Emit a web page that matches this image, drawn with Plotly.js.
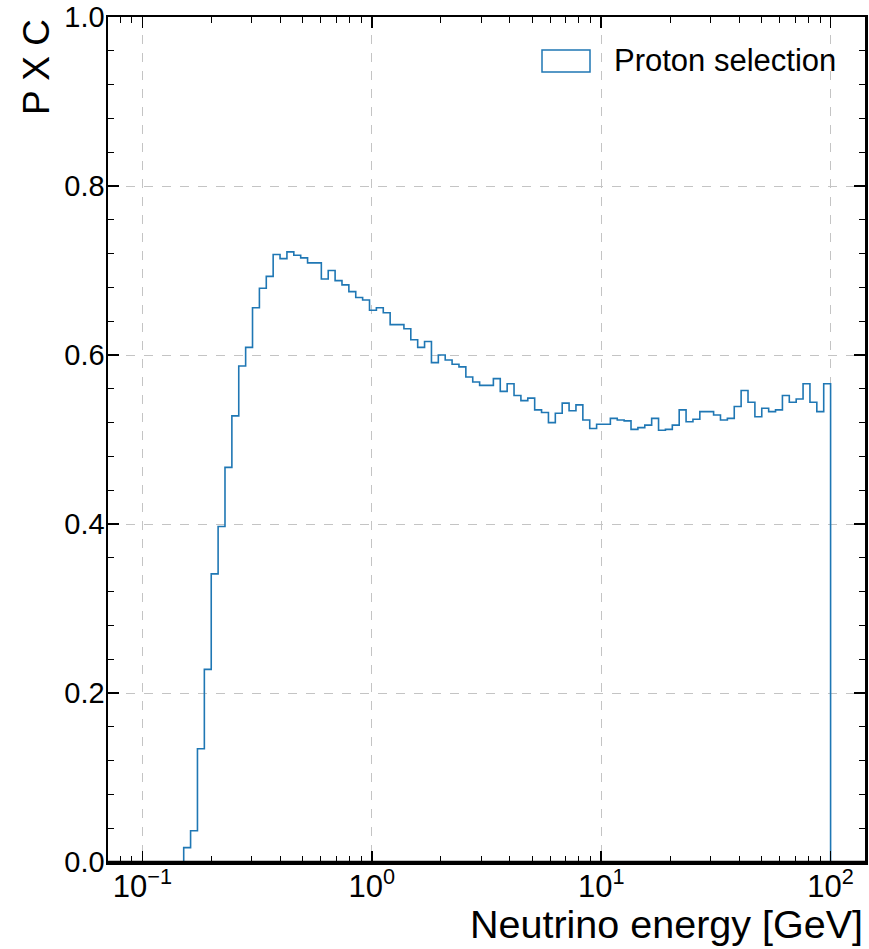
<!DOCTYPE html>
<html>
<head>
<meta charset="utf-8">
<script src="https://cdn.plot.ly/plotly-3.0.1.min.js"></script>
<style>html,body{margin:0;padding:0;background:#fff;}#chart{width:869px;height:949px;}</style>
</head>
<body>
<div id="chart"></div>
<script>
// Histogram definition: 100 log-spaced bins from 0.1 to 100 GeV
const energyMin = 0.1;
const energyMax = 100;
const nBins = 100;

// P x C per bin
const pxcValues = [
  0, 0, 0, 0, 0, 0,
  0.017, 0.037, 0.134, 0.228, 0.341, 0.397, 0.467, 0.528, 0.587, 0.609,
  0.656, 0.679, 0.693, 0.719, 0.714, 0.722, 0.718, 0.715, 0.709, 0.709,
  0.690, 0.700, 0.688, 0.683, 0.675, 0.668, 0.665, 0.653, 0.656, 0.650,
  0.636, 0.636, 0.631, 0.618, 0.609, 0.616, 0.591, 0.600, 0.594, 0.589,
  0.586, 0.574, 0.568, 0.564, 0.564, 0.572, 0.557, 0.566, 0.552, 0.546,
  0.549, 0.535, 0.532, 0.520, 0.531, 0.543, 0.534, 0.541, 0.523, 0.513,
  0.518, 0.518, 0.525, 0.523, 0.522, 0.512, 0.514, 0.517, 0.525, 0.511,
  0.512, 0.517, 0.535, 0.521, 0.524, 0.533, 0.533, 0.529, 0.523, 0.525,
  0.539, 0.558, 0.544, 0.527, 0.537, 0.533, 0.535, 0.552, 0.544, 0.548,
  0.566, 0.544, 0.533, 0.566
];

const seriesName = "Proton selection";
const xTickVals = [0.1, 1, 10, 100];
const xTickText = ["10<sup>\u22121</sup>", "10<sup>0</sup>", "10<sup>1</sup>", "10<sup>2</sup>"];
const yTickVals = [0, 0.2, 0.4, 0.6, 0.8, 1.0];
const yTickText = ["0.0", "0.2", "0.4", "0.6", "0.8", "1.0"];
const xTitle = "Neutrino energy [GeV]";
const yTitle = "P X C";

// bin edges (log spaced)
const lo = Math.log10(energyMin), hi = Math.log10(energyMax);
const binEdges = [];
for (let i = 0; i <= nBins; i++) binEdges.push(Math.pow(10, lo + (hi - lo) * i / nBins));

// minor tick positions on the log axis
const xMinor = [];
for (let d = -2; d <= 2; d++) for (let m = 2; m <= 9; m++) xMinor.push(m * Math.pow(10, d));

const lineColor = "#1f77b4";
const font = "Liberation Sans, Arial, Helvetica, sans-serif";

const trace = {
  type: "scatter",
  mode: "lines",
  x: binEdges,
  y: pxcValues.concat([0]),
  line: {shape: "hv", color: lineColor, width: 1.6},
  name: seriesName,
  showlegend: false,
  hoverinfo: "x+y"
};

const L = 108, R = 865, T = 17, B = 862;
const W = 869, H = 949;
const pw = R - L, ph = B - T;
const px = v => (v - L) / pw;
const py = v => (B - v) / ph;

const axisCommon = {
  showline: true, linewidth: 2.5, linecolor: "#000",
  mirror: "allticks",
  ticks: "inside", ticklen: 11, tickwidth: 1.5, tickcolor: "#000",
  showgrid: true, gridcolor: "#c4c4c4", griddash: "dash", gridwidth: 1,
  zeroline: false,
  layer: "above traces"
};

const layout = {
  width: W, height: H,
  margin: {l: L, r: W - R, t: T, b: H - B, pad: 0},
  paper_bgcolor: "#fff", plot_bgcolor: "#fff",
  showlegend: false,
  font: {family: font, color: "#000"},
  xaxis: Object.assign({}, axisCommon, {
    type: "log",
    range: [-1.15, 2.15],
    tickmode: "array", tickvals: xTickVals, ticktext: xTickText,
    tickfont: {family: font, size: 31, color: "#000"},
    ticklabelstandoff: -5,
    minor: {ticks: "inside", ticklen: 6, tickwidth: 1, tickcolor: "#000",
            tickmode: "array", tickvals: xMinor, showgrid: false}
  }),
  yaxis: Object.assign({}, axisCommon, {
    range: [0, 1],
    tickmode: "array", tickvals: yTickVals, ticktext: yTickText,
    tickfont: {family: font, size: 29, color: "#000"},
    ticklabelstandoff: -5,
    minor: {ticks: "inside", ticklen: 6, tickwidth: 1, tickcolor: "#000",
            tick0: 0, dtick: 0.04, showgrid: false}
  }),
  shapes: [
    {type: "rect", xref: "paper", yref: "paper",
     x0: px(542), x1: px(590), y0: py(72), y1: py(50),
     line: {color: lineColor, width: 1.5}, fillcolor: "rgba(0,0,0,0)"},
    {type: "line", xref: "paper", yref: "paper", layer: "above",
     x0: 0, x1: 1, y0: 0, y1: 0, line: {color: "#000", width: 2.5}}
  ],
  annotations: [
    {xref: "paper", yref: "paper", x: px(612), y: py(61), xanchor: "left", yanchor: "middle",
     text: seriesName, showarrow: false, font: {family: font, size: 31, color: "#000"}},
    {xref: "paper", yref: "paper", x: 1, y: py(924), xanchor: "right", yanchor: "middle",
     text: xTitle, showarrow: false, font: {family: font, size: 39.5, color: "#000"}},
    {xref: "paper", yref: "paper", x: px(36), y: 1, xanchor: "center", yanchor: "top",
     textangle: -90, text: yTitle, showarrow: false, font: {family: font, size: 37, color: "#000"}}
  ]
};

Plotly.newPlot("chart", [trace], layout, {displayModeBar: false, staticPlot: true});
</script>
</body>
</html>
